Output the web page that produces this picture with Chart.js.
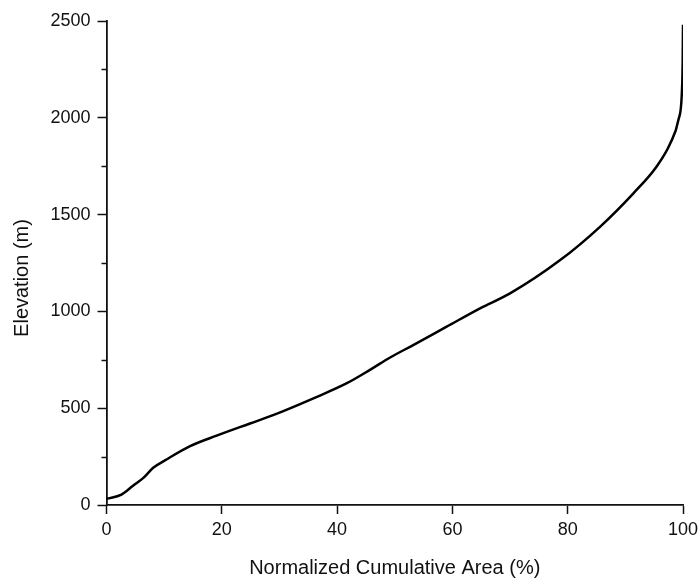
<!DOCTYPE html>
<html>
<head>
<meta charset="utf-8">
<style>
  html, body { margin: 0; padding: 0; background: #fff; }
  canvas { display: block; }
</style>
<script src="https://cdn.jsdelivr.net/npm/chart.js@4.4.0/dist/chart.umd.min.js"></script>
</head>
<body>
<canvas id="chart" width="699" height="580"></canvas>
<script>
// hypsometric curve
const areaPct = [0, 2.6, 4.6, 6.4, 8.1, 10.4, 14.5, 19.1, 24.9, 28.9, 35.9, 41.7, 45.7, 49.2, 53.2, 59.0, 64.8, 70.0, 78.7, 85.6, 91.4, 95.4, 97.8, 99.2, 99.8, 99.95, 100];
const elevation = [32, 54, 100, 140, 192, 235, 304, 358, 421, 464, 551, 629, 698, 762, 826, 921, 1016, 1093, 1265, 1437, 1610, 1747, 1868, 1989, 2127, 2299, 2480];

const xTitle = "Normalized Cumulative Area (%)";
const yTitle = "Elevation (m)";

const fontFamily = "'Liberation Sans', Arial, Helvetica, sans-serif";
const inkColor = "#111";

// minor ticks on the y axis + axis titles
const extras = {
  id: "extras",
  afterDraw(chart) {
    const { ctx, chartArea, scales } = chart;
    const y = scales.y;
    ctx.save();
    ctx.strokeStyle = inkColor;
    ctx.lineWidth = 1.5;
    for (let v = 250; v < y.max; v += 500) {
      const py = Math.round(y.getPixelForValue(v)) + 0.5;
      ctx.beginPath();
      ctx.moveTo(chartArea.left - 5, py);
      ctx.lineTo(chartArea.left, py);
      ctx.stroke();
    }
    ctx.fillStyle = inkColor;
    ctx.font = "20px " + fontFamily;
    ctx.textAlign = "center";
    ctx.textBaseline = "middle";
    ctx.fillText(xTitle, (chartArea.left + chartArea.right) / 2, 568);
    ctx.translate(22, (chartArea.top + chartArea.bottom) / 2 + 15);
    ctx.rotate(-Math.PI / 2);
    ctx.fillText(yTitle, 0, 0);
    ctx.restore();
  },
};

new Chart(document.getElementById("chart"), {
  type: "line",
  data: {
    datasets: [{
      data: areaPct.map((x, i) => ({ x, y: elevation[i] })),
      borderColor: "#000",
      borderWidth: 2.5,
      pointRadius: 0,
      cubicInterpolationMode: "monotone",
      fill: false,
    }],
  },
  options: {
    responsive: false,
    animation: false,
    layout: { padding: { top: 21, right: 0, left: 0, bottom: 0 } },
    plugins: { legend: { display: false }, tooltip: { enabled: false } },
    scales: {
      x: {
        type: "linear",
        min: 0,
        max: 100,
        border: { color: inkColor, width: 1.8 },
        grid: { drawOnChartArea: false, drawTicks: true, tickLength: 9, tickColor: inkColor, tickWidth: 1.5 },
        ticks: { stepSize: 20, color: inkColor, padding: 5, maxRotation: 0, font: { size: 18, family: fontFamily }, callback: (v) => String(v) },
        afterFit: (scale) => { scale.height = 75; scale.paddingRight = 16; scale.paddingLeft = 0; },
      },
      y: {
        type: "linear",
        min: 0,
        max: 2500,
        border: { color: inkColor, width: 1.8 },
        grid: { drawOnChartArea: false, drawTicks: true, tickLength: 9, tickColor: inkColor, tickWidth: 1.5 },
        ticks: { stepSize: 500, color: inkColor, padding: 7, font: { size: 18, family: fontFamily }, callback: (v) => String(v) },
        afterFit: (scale) => { scale.width = 106.5; },
      },
    },
  },
  plugins: [extras],
});
</script>
</body>
</html>
